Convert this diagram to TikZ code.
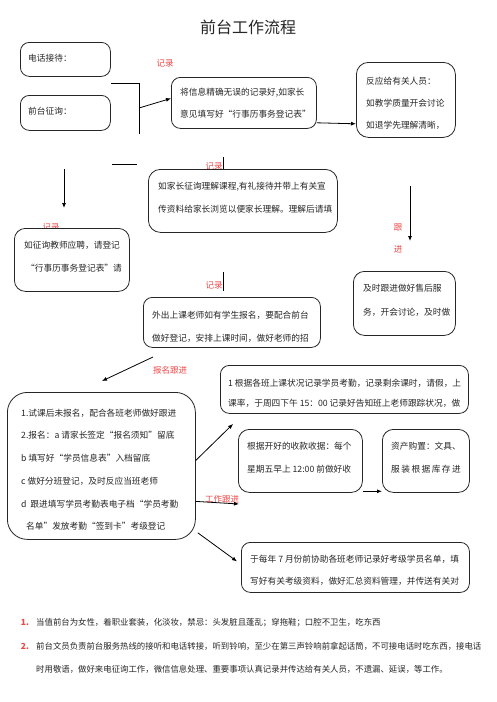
\documentclass[tikz,border=0pt]{standalone}
\usepackage{fontspec}
\setmainfont{Noto Sans CJK SC}
\usetikzlibrary{arrows.meta,calc}
\definecolor{lblred}{RGB}{240,70,70}
\begin{document}
\begin{tikzpicture}[x=1pt,y=-1pt,
  box/.style={draw=black!85, line width=0.8pt, fill=white, rounded corners=9pt, anchor=north west, inner sep=0pt},
  txt/.style={anchor=west, inner sep=0pt, font=\fontsize{8.7}{10}\selectfont, text=black!85},
  note/.style={anchor=west, inner sep=0pt, font=\fontsize{8.4}{10}\selectfont, text=black!85},
  lbl/.style={inner sep=0pt, font=\fontsize{8.5}{10}\selectfont, text=lblred},
  arr/.style={-{Latex[length=5pt,width=4pt]}, line width=0.8pt},
  ln/.style={line width=0.8pt}]
\useasboundingbox[fill=white] (0,0) rectangle (496,702);

\node[font=\fontsize{16}{18}\selectfont, text=black!85] (title) at (248,27) {前台工作流程};

% labels partly hidden behind boxes
\node[lbl] (l2) at (51,227) {记录};
\node[lbl] (l3) at (214,166) {记录};

% boxes
\node[box, minimum width=90pt, minimum height=34pt] (b1) at (20,42) {};
\node[box, minimum width=90pt, minimum height=35pt] (b2) at (20,95) {};
\node[box, minimum width=145pt, minimum height=51pt] (b3) at (171,77) {};
\node[box, minimum width=99pt, minimum height=75pt, rounded corners=12pt] (b4) at (356,62) {};
\node[box, minimum width=115pt, minimum height=63pt, rounded corners=11pt] (b5) at (14,228) {};
\node[box, minimum width=189pt, minimum height=63pt, rounded corners=12pt] (b6) at (148,169) {};
\node[box, minimum width=177pt, minimum height=50pt] (b7) at (143,297) {};
\node[box, minimum width=188pt, minimum height=147pt, rounded corners=20pt] (b8) at (7,392) {};
\node[box, minimum width=248pt, minimum height=48pt] (b9) at (220,365) {};
\node[box, minimum width=124pt, minimum height=63pt, rounded corners=11pt] (b10) at (238,429) {};
\node[box, minimum width=87pt, minimum height=63pt, rounded corners=11pt] (b11) at (382,429) {};
\node[box, minimum width=228pt, minimum height=50pt] (b12) at (241,542) {};
\node[box, minimum width=102pt, minimum height=64pt, rounded corners=11pt] (b13) at (353,271) {};

% box texts
\node[txt] (t1) at (28,58) {电话接待：};
\node[txt] (t2) at (28,111) {前台征询：};
\node[txt] (t3a) at (180,93) {将信息精确无误的记录好,如家长};
\node[txt] (t3b) at (180,114) {意见填写好“行事历事务登记表”};
\node[txt] (t4a) at (366,81) {反应给有关人员：};
\node[txt] (t4b) at (366,103) {如教学质量开会讨论};
\node[txt] (t4c) at (366,125) {如退学先理解清晰，};
\node[txt] (t5a) at (24,245) {如征询教师应聘，请登记};
\node[txt] (t5b) at (26,268) {“行事历事务登记表”请};
\node[txt] (t6a) at (158,187) {如家长征询理解课程,有礼接待并带上有关宣};
\node[txt] (t6b) at (158,209) {传资料给家长浏览以便家长理解。理解后请填};
\node[txt] (t7a) at (152,315) {外出上课老师如有学生报名，要配合前台};
\node[txt] (t7b) at (152,338) {做好登记，安排上课时间，做好老师的招};
\node[txt] (t8a) at (21,413) {1.试课后未报名，配合各班老师做好跟进};
\node[txt] (t8b) at (21,435) {2.报名：a 请家长签定“报名须知”留底};
\node[txt] (t8c) at (21,458) {b 填写好“学员信息表”入档留底};
\node[txt] (t8d) at (21,481) {c 做好分班登记，及时反应当班老师};
\node[txt] (t8e) at (21,504) {d \ 跟进填写学员考勤表电子档“学员考勤};
\node[txt] (t8f) at (26,526) {名单”发放考勤“签到卡”考级登记};
\node[txt] (t9a) at (228,383) {1 根据各班上课状况记录学员考勤，记录剩余课时，请假，上};
\node[txt] (t9b) at (228,403) {课率，于周四下午 15：00 记录好告知班上老师跟踪状况，做};
\node[txt] (t10a) at (247,446) {根据开好的收款收据：每个};
\node[txt] (t10b) at (247,469) {星期五早上 12:00 前做好收};
\node[txt] (t11a) at (391,446) {资产购置：文具、};
\node[txt] (t11b) at (391,469) {服\,装\,根\,据\,库\,存\,进};
\node[txt] (t12a) at (250,559) {于每年 7 月份前协助各班老师记录好考级学员名单，填};
\node[txt] (t12b) at (250,581) {写好有关考级资料，做好汇总资料管理，并传送有关对};
\node[txt] (t13a) at (363,288) {及时跟进做好售后服};
\node[txt] (t13b) at (363,312) {务，开会讨论，及时做};

% other labels
\node[lbl] (l1) at (165,63) {记录};
\node[lbl] (l4) at (214,285) {记录};
\node[lbl] (l5) at (170,370) {报名跟进};
\node[lbl] (l6) at (222,499) {工作跟进};
\node[lbl] (l7) at (398,227) {跟};
\node[lbl] (l8) at (398,249) {进};

% connectors
\coordinate (h1a) at (111,83);
\coordinate (h1b) at (139,83);
\coordinate (h1c) at (139,134);
\draw[ln] (h1a) -- (h1b) -- (h1c);
\coordinate (h2a) at (112,164);
\coordinate (h2b) at (137,164);
\draw[ln] (h2a) -- (h2b);
\coordinate (j) at (139,108);
\draw[arr] (j) -- ($(b3.west)+(0,-4.5)$);
\draw[arr] ($(b3.south east)+(0,-6)$) -- ($(b4.south west)+(0,-14)$);
\coordinate (d1) at (64,169);
\coordinate (d2) at (64,208);
\draw[arr] (d1) -- (d2);
\coordinate (v1) at (223,157);
\draw[ln] (v1) -- (v1 |- b6.north);
\coordinate (v2a) at (223,272);
\coordinate (v2b) at (223,291);
\draw[ln] (v2a) -- (v2b);
\coordinate (s1) at (153,357);
\coordinate (s2) at (102,381);
\draw[arr] (s1) -- (s2);
\coordinate (e1) at (233,424);
\draw[arr] ($(b8.east)+(0,-5.5)$) -- (e1);
\draw[arr] ($(b10.south east)+(0,-1.5)$) -- ($(b11.south west)+(0,-1.5)$);
\coordinate (w1) at (239,504);
\draw[arr] ($(b8.east)+(0,35.5)$) -- (w1);
\draw[arr] ($(b8.south east)+(2,-7)$) -- ($(b12.west)+(-4,-6)$);
\coordinate (f1) at (410,186);
\coordinate (f2) at (410,241);
\draw[arr] (f1) -- (f2);

% notes at bottom
\node[lbl, font=\fontsize{8.4}{10}\selectfont\bfseries] (n1) at (25,623) {1.};
\node[note] (n1t) at (36,623) {当值前台为女性，着职业套装，化淡妆，禁忌：头发脏且蓬乱；穿拖鞋；口腔不卫生，吃东西};
\node[lbl, font=\fontsize{8.4}{10}\selectfont\bfseries] (n2) at (25,646) {2.};
\node[note] (n2t) at (36,646) {前台文员负责前台服务热线的接听和电话转接，听到铃响，至少在第三声铃响前拿起话筒，不可接电话时吃东西，接电话};
\node[note] (n3t) at (36,669) {时用敬语，做好来电征询工作，微信信息处理、重要事项认真记录并传达给有关人员，不遗漏、延误，等工作。};
\end{tikzpicture}
\end{document}
